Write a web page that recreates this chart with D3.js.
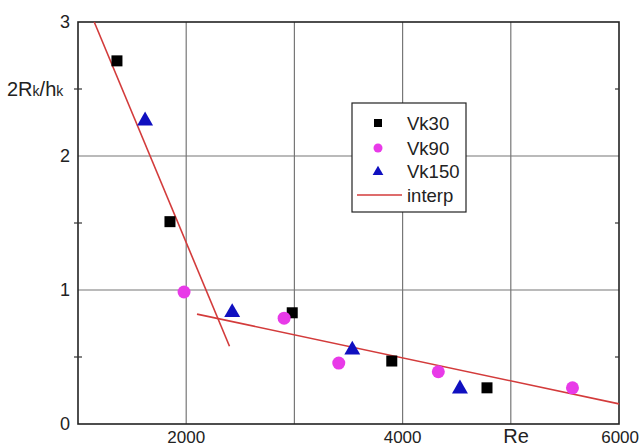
<!DOCTYPE html>
<html>
<head>
<script src="https://d3js.org/d3.v7.min.js"></script>
<style>
body { margin: 0; background: #fff; }
text { font-family: "Liberation Sans", Arial, sans-serif; }
</style>
</head>
<body>
<script>
// data
var vk30 = [[1360, 2.71], [1850, 1.51], [2980, 0.83], [3900, 0.47], [4780, 0.27]];
var vk90 = [[1980, 0.985], [2905, 0.79], [3410, 0.455], [4330, 0.39], [5570, 0.27]];
var vk150 = [[1620, 2.27], [2425, 0.84], [3535, 0.56], [4530, 0.27]];
var interp1 = [[1150, 3.0], [2400, 0.58]];
var interp2 = [[2100, 0.82], [6000, 0.15]];
var xTicks = [2000, 4000, 6000];
var xGrid = [2000, 3000, 4000, 5000];
var yTicks = [0, 1, 2, 3];
var yGrid = [1, 2];
var yMinor = [0.5, 1.5, 2.5];

var width = 639, height = 448;
var svg = d3.select("body").append("svg")
    .attr("width", width)
    .attr("height", height);

var x = d3.scaleLinear().domain([1000, 6000]).range([78, 619]);
var y = d3.scaleLinear().domain([0, 3]).range([424, 22]);

// grid
svg.append("g").selectAll("line").data(xGrid).enter().append("line")
    .attr("x1", function(d) { return x(d); }).attr("x2", function(d) { return x(d); })
    .attr("y1", y(0)).attr("y2", y(3))
    .attr("stroke", "#777").attr("stroke-width", 1.2);
svg.append("g").selectAll("line").data(yGrid).enter().append("line")
    .attr("y1", function(d) { return y(d); }).attr("y2", function(d) { return y(d); })
    .attr("x1", x(1000)).attr("x2", x(6000))
    .attr("stroke", "#777").attr("stroke-width", 1.2);

// frame
svg.append("rect")
    .attr("x", x(1000)).attr("y", y(3))
    .attr("width", x(6000) - x(1000)).attr("height", y(0) - y(3))
    .attr("fill", "none").attr("stroke", "#222").attr("stroke-width", 1.6);

// minor ticks
svg.append("g").selectAll("line").data(yMinor).enter().append("line")
    .attr("x1", x(1000) - 4).attr("x2", x(1000) + 4)
    .attr("y1", function(d) { return y(d); }).attr("y2", function(d) { return y(d); })
    .attr("stroke", "#333").attr("stroke-width", 1.2);
svg.append("g").selectAll("line").data(yMinor).enter().append("line")
    .attr("x1", x(6000) - 4).attr("x2", x(6000))
    .attr("y1", function(d) { return y(d); }).attr("y2", function(d) { return y(d); })
    .attr("stroke", "#333").attr("stroke-width", 1.2);

// tick labels
svg.append("g").selectAll("text").data(xTicks).enter().append("text")
    .attr("x", function(d) { return x(d); })
    .attr("y", 443)
    .attr("text-anchor", function(d) { return d == 6000 ? "end" : "middle"; })
    .attr("dx", function(d) { return d == 6000 ? 20 : 0; })
    .attr("font-size", 17).attr("fill", "#222")
    .text(function(d) { return d; });
svg.append("g").selectAll("text").data(yTicks).enter().append("text")
    .attr("x", 70)
    .attr("y", function(d) { return y(d) + 6; })
    .attr("text-anchor", "end")
    .attr("font-size", 18).attr("fill", "#222")
    .text(function(d) { return d; });

svg.append("text").attr("x", 516).attr("y", 443)
    .attr("text-anchor", "middle").attr("font-size", 20).attr("fill", "#222").text("Re");

var yl = svg.append("text").attr("x", 7).attr("y", y(2.5) + 7).attr("font-size", 20).attr("fill", "#222");
yl.append("tspan").text("2R");
yl.append("tspan").attr("font-size", 14).text("k");
yl.append("tspan").text("/h");
yl.append("tspan").attr("font-size", 14).text("k");

// interp lines
var line = d3.line().x(function(d) { return x(d[0]); }).y(function(d) { return y(d[1]); });
[interp1, interp2].forEach(function(seg) {
  svg.append("path").datum(seg).attr("d", line)
      .attr("fill", "none").attr("stroke", "#d33b3b").attr("stroke-width", 1.6);
});

// markers
svg.append("g").selectAll("rect").data(vk30).enter().append("rect")
    .attr("x", function(d) { return x(d[0]) - 5.5; })
    .attr("y", function(d) { return y(d[1]) - 5.5; })
    .attr("width", 11).attr("height", 11).attr("fill", "#000");
svg.append("g").selectAll("circle").data(vk90).enter().append("circle")
    .attr("cx", function(d) { return x(d[0]); })
    .attr("cy", function(d) { return y(d[1]); })
    .attr("r", 6.5).attr("fill", "#e83ae8");
var tri = d3.symbol().type(d3.symbolTriangle).size(110);
svg.append("g").selectAll("path").data(vk150).enter().append("path")
    .attr("d", tri)
    .attr("transform", function(d) { return "translate(" + x(d[0]) + "," + (y(d[1]) + 1) + ")"; })
    .attr("fill", "#1010c0");

// legend
var lg = svg.append("g");
lg.append("rect").attr("x", 352).attr("y", 103).attr("width", 114).attr("height", 109)
    .attr("fill", "#fff").attr("stroke", "#222").attr("stroke-width", 1.2);
var names = ["Vk30", "Vk90", "Vk150", "interp"];
var ly = [123, 148, 171, 195];
names.forEach(function(n, i) {
  lg.append("text").attr("x", 407).attr("y", ly[i] + 7).attr("font-size", 18.5)
      .attr("fill", "#222").text(n);
});
lg.append("rect").attr("x", 374).attr("y", ly[0] - 4).attr("width", 8).attr("height", 8).attr("fill", "#000");
lg.append("circle").attr("cx", 378).attr("cy", ly[1]).attr("r", 4.5).attr("fill", "#e83ae8");
lg.append("path").attr("d", d3.symbol().type(d3.symbolTriangle).size(50))
    .attr("transform", "translate(378," + (ly[2] + 1) + ")").attr("fill", "#1010c0");
lg.append("line").attr("x1", 357).attr("x2", 402).attr("y1", ly[3]).attr("y2", ly[3])
    .attr("stroke", "#d33b3b").attr("stroke-width", 1.6);
</script>
</body>
</html>
